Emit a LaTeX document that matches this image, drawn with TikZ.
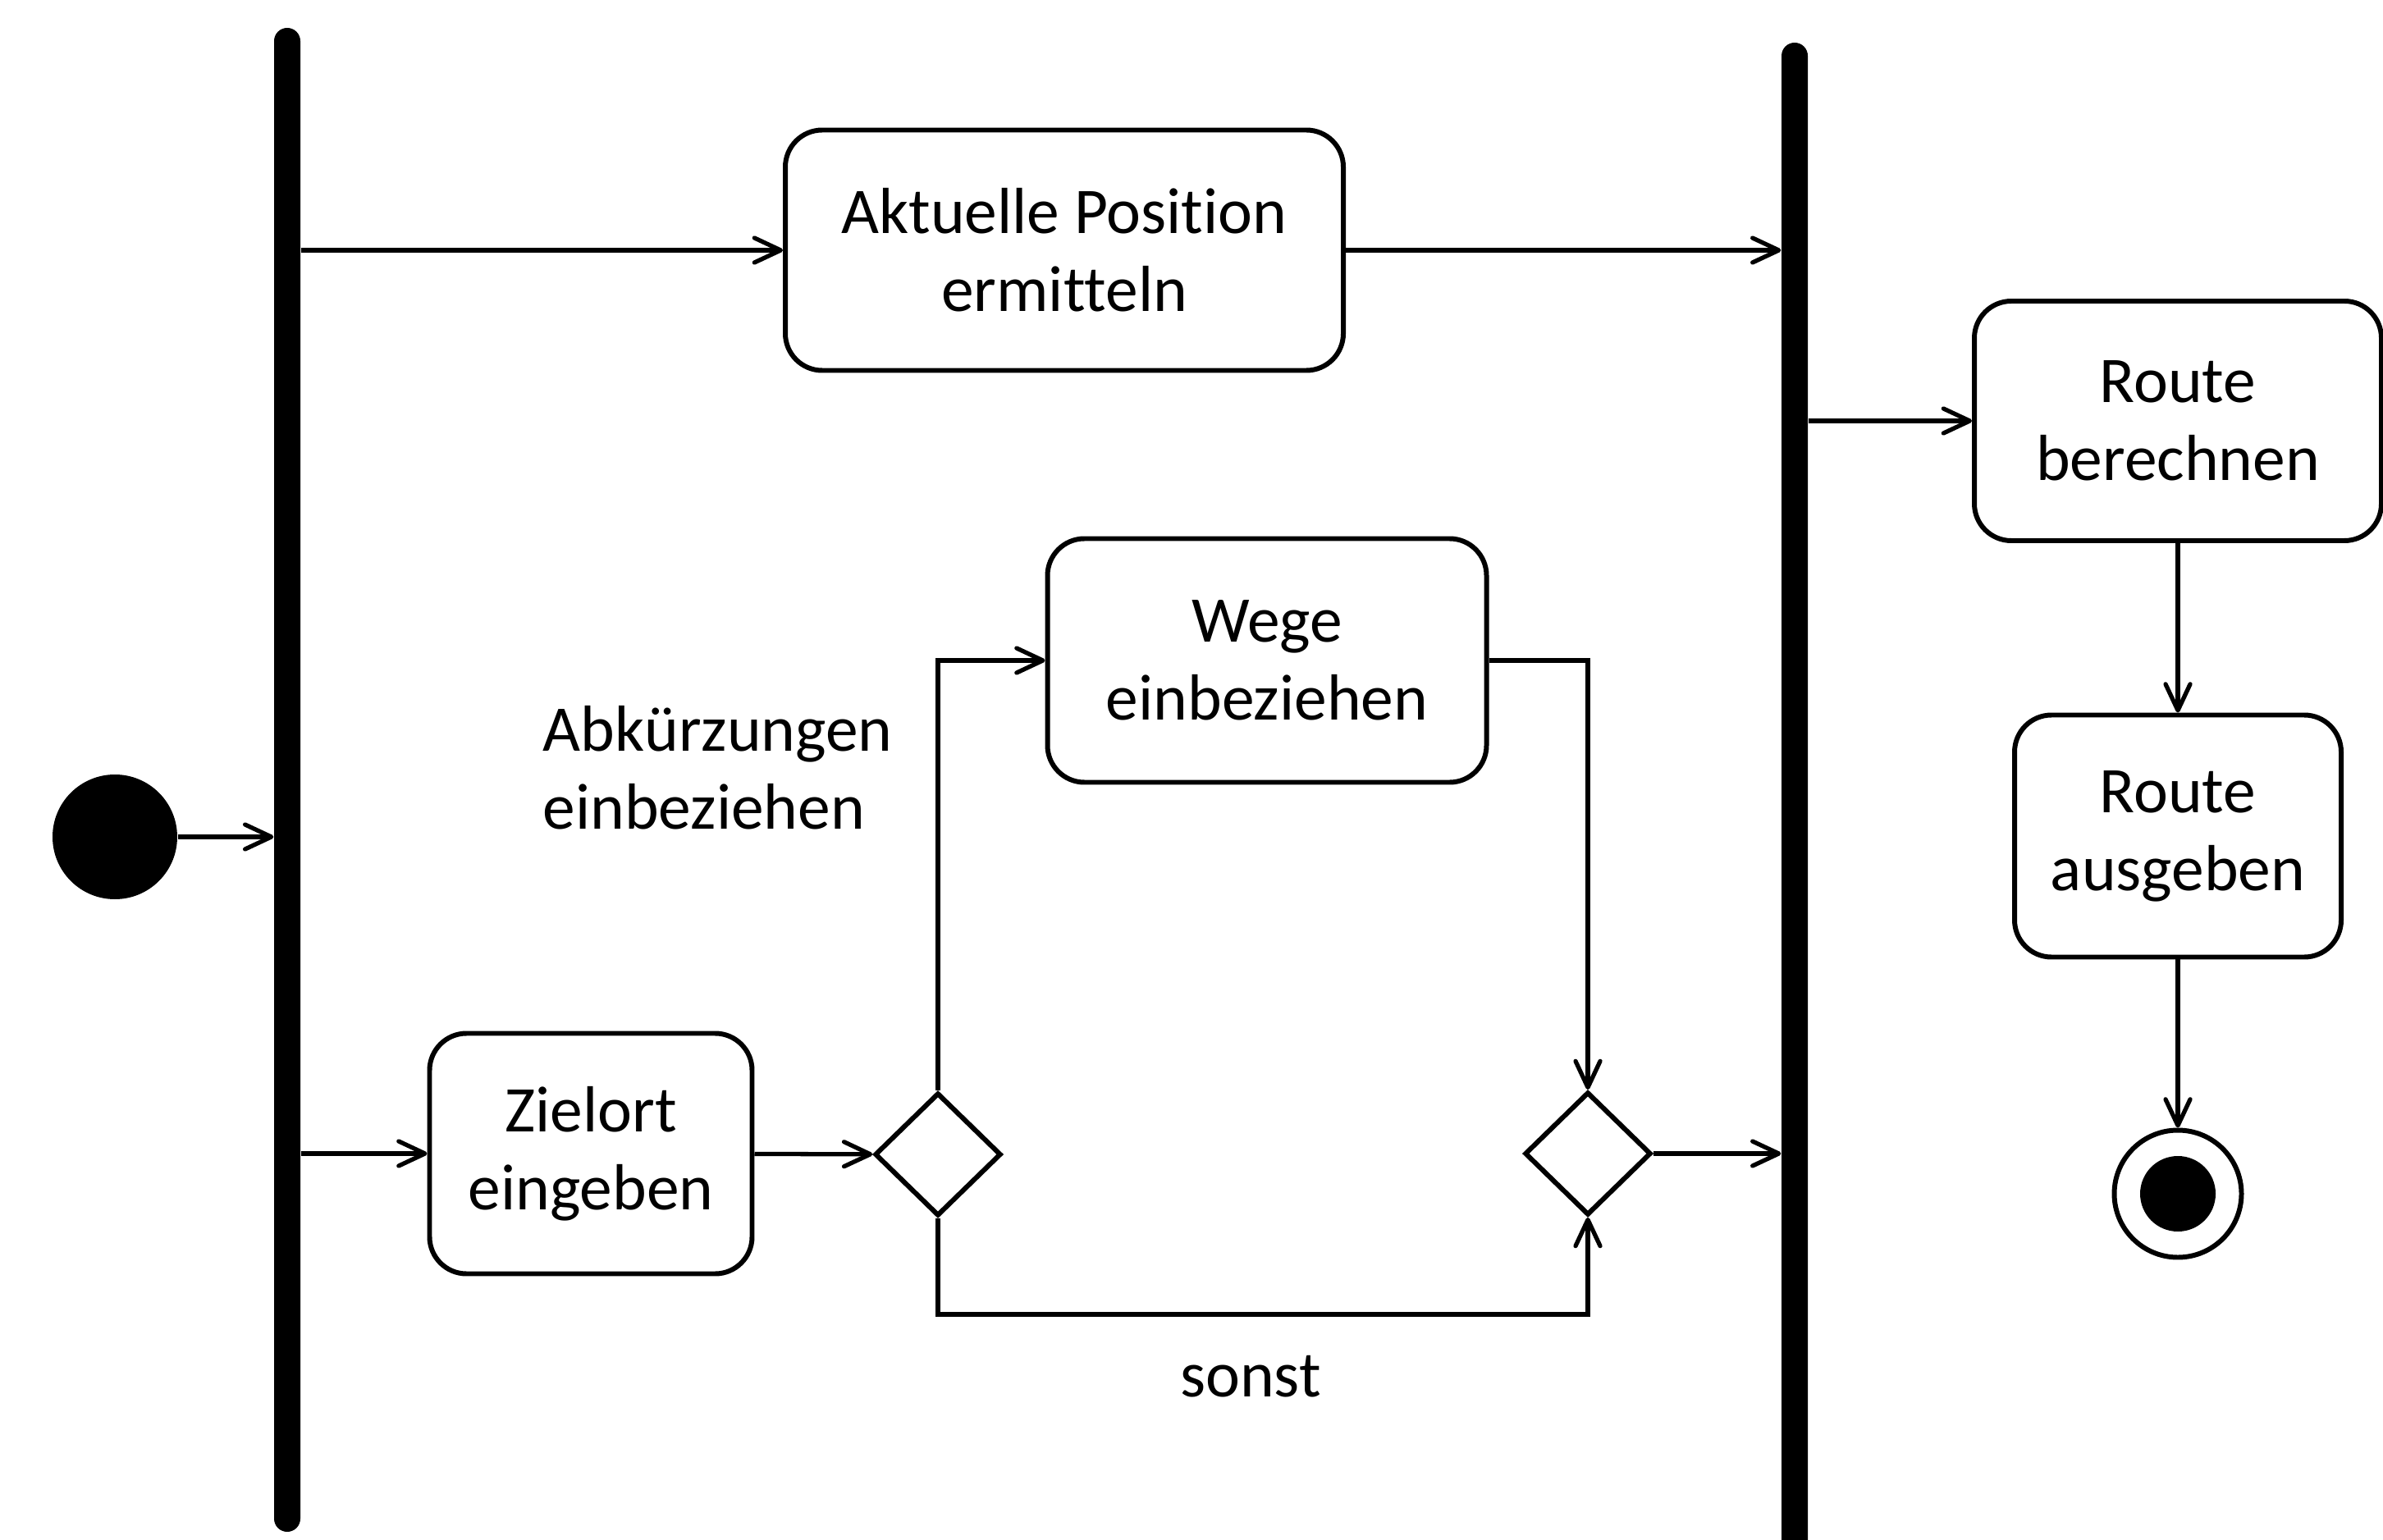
\documentclass[tikz,border=0pt]{standalone}
\usepackage{fontspec}
\setmainfont{Carlito}[Ligatures=NoCommon]
\usetikzlibrary{arrows.meta,shapes.geometric}
\tikzset{
  action/.style={draw, rounded corners=0.45cm, line width=1.7pt, align=center, inner sep=0pt},
  decision/.style={draw, diamond, line width=1.7pt, minimum width=1.54cm, minimum height=1.5cm, inner sep=0pt},
  forkbar/.style={fill=black, rounded corners=0.16cm, minimum width=0.32cm, inner sep=0pt},
  flow/.style={line width=1.5pt, -{Straight Barb[length=0.32cm,width=0.3cm,round]}},
}

\begin{document}
\begin{tikzpicture}[every node/.style={font=\fontsize{22.6}{27}\selectfont}]
\useasboundingbox (0,0) rectangle (29.04,-18.77);
% fork and join bars
\node[forkbar, minimum height=18.33cm] (forkL) at (3.50,-9.505) {};
\node[forkbar, minimum height=18.68cm] (forkR) at (21.87,-9.86) {};
% start and end
\node[circle, fill=black, minimum size=1.52cm, inner sep=0pt] (start) at (1.40,-10.20) {};
\node[circle, draw, line width=1.7pt, minimum size=1.55cm, inner sep=0pt] (final) at (26.54,-14.55) {};
\fill (final) circle (0.46);
% actions
\node[action, minimum width=6.80cm, minimum height=2.93cm] (pos) at (12.97,-3.05) {Aktuelle Position\\ermitteln};
\node[action, minimum width=3.93cm, minimum height=2.93cm] (ziel) at (7.20,-14.06) {Zielort\\eingeben};
\node[action, minimum width=5.35cm, minimum height=2.97cm] (wege) at (15.44,-8.05) {Wege\\einbeziehen};
\node[action, minimum width=4.96cm, minimum height=2.92cm] (route) at (26.54,-5.13) {Route\\berechnen};
\node[action, minimum width=3.98cm, minimum height=2.95cm] (ausgabe) at (26.54,-10.19) {Route\\ausgeben};
% decisions
\node[decision] (dec1) at (11.43,-14.07) {};
\node[decision] (dec2) at (19.35,-14.06) {};
% labels
\node[anchor=west, align=left, inner sep=0pt] (abk) at (6.61,-9.36) {Abkürzungen\\einbeziehen};
\node (sonst) at (15.24,-16.78) {sonst};
\coordinate (loop) at (15.24,-16.02);
% flows
\draw[flow] (start) -- (start -| forkL.west);
\draw[flow] (forkL.east |- pos) -- (pos);
\draw[flow] (pos) -- (pos -| forkR.west);
\draw[flow] (forkR.east |- route) -- (route);
\draw[flow] (route) -- (ausgabe);
\draw[flow] (ausgabe) -- (final);
\draw[flow] (forkL.east |- ziel) -- (ziel);
\draw[flow] (ziel) -- (dec1);
\draw[flow] (dec1.north) |- (wege);
\draw[flow] (wege.east) -| (dec2.north);
\draw[flow] (dec1.south) |- (loop) -| (dec2.south);
\draw[flow] (dec2) -- (dec2 -| forkR.west);
\end{tikzpicture}
\end{document}
